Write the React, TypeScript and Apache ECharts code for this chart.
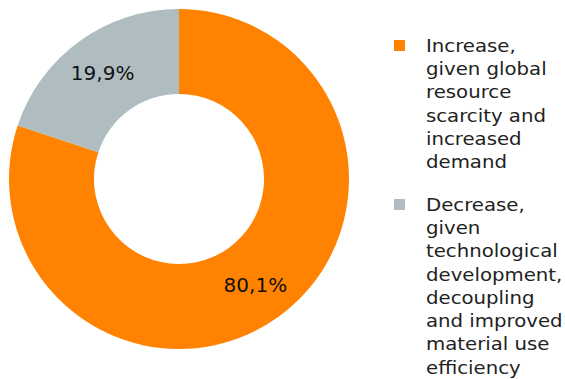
import React, { useEffect, useRef } from "react";
import * as echarts from "echarts";

const categories = [
  "Increase, given global resource scarcity and increased demand",
  "Decrease, given technological development, decoupling and improved material use efficiency",
];
const legendLines = [
  ["Increase,", "given global", "resource", "scarcity and", "increased", "demand"],
  ["Decrease,", "given", "technological", "development,", "decoupling", "and improved", "material use", "efficiency"],
];
const values = [80.1, 19.9];
const colors = ["#FF8300", "#AFBDC1"];

export default function App() {
  const ref = useRef<HTMLDivElement>(null);
  useEffect(() => {
    document.body.style.margin = "0";
    const chart = echarts.init(ref.current!, undefined, { renderer: "svg" });
    const lineH = 23.3;
    const legendTops = [38, 197];
    const graphic: any[] = [];
    legendLines.forEach((lines, i) => {
      graphic.push({
        type: "rect",
        x: 394,
        y: legendTops[i] + 2,
        shape: { width: 11, height: 11 },
        style: { fill: colors[i] },
      });
      graphic.push({
        type: "text",
        x: 426,
        y: legendTops[i] - 4,
        scaleX: 1.16,
        style: {
          text: lines.join("\n"),
          font: "400 17px 'DejaVu Sans'",
          lineHeight: lineH,
          verticalAlign: "top",
          align: "left",
          fill: "#222222",
        },
      });
    });
    chart.setOption({
      animation: false,
      graphic,
      series: [
        {
          type: "pie",
          center: [179, 179],
          radius: [85, 170],
          startAngle: 90,
          clockwise: true,
          silent: true,
          data: categories.map((name, i) => ({
            name,
            value: values[i],
            itemStyle: { color: colors[i] },
          })),
          label: {
            show: true,
            position: "inside",
            formatter: (p: any) => String(p.value).replace(".", ",") + "%",
            fontFamily: "DejaVu Sans",
            fontSize: 20,
            fontWeight: 400,
            color: "#111111",
          },
          labelLine: { show: false },
        },
      ],
    });
    return () => chart.dispose();
  }, []);
  return <div ref={ref} style={{ width: 565, height: 379 }} />;
}
